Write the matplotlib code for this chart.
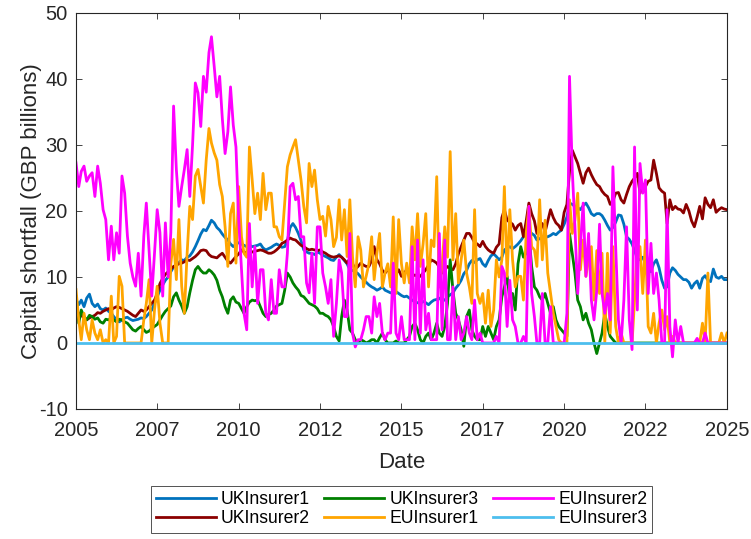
import matplotlib.pyplot as plt
import matplotlib.dates as mdates
import pandas as pd

plt.rcParams["font.family"] = ["Liberation Sans", "DejaVu Sans"]
plt.rcParams["axes.unicode_minus"] = False

# monthly observations, Jan 2005 .. Jan 2025 (one row per year)
dates = pd.date_range("2005-01-01", "2025-01-01", freq="MS")

uk_insurer1 = [
    6.6, 5.8, 6.5, 5.5, 6.8, 7.4, 6.0, 5.5, 5.9, 5.2, 5.0, 5.3,
    4.8, 4.5, 4.0, 3.5, 3.2, 3.5, 3.8, 3.9, 3.6, 3.4, 3.5, 3.6,
    3.8, 3.7, 4.0, 4.5, 5.0, 6.0, 7.0, 8.0, 8.8, 9.5, 10.0, 10.8,
    11.5, 11.8, 12.2, 12.6, 12.5, 13.0, 13.2, 13.8, 14.6, 15.5, 16.5, 17.2,
    17.0, 17.8, 18.6, 18.2, 17.5, 17.1, 16.5, 16.0, 15.6, 15.0, 14.6, 15.0,
    15.2, 15.0, 14.8, 14.6, 14.8, 14.6, 14.7, 14.8, 15.0, 14.4, 14.1, 14.3,
    14.5, 14.8, 15.0, 14.8, 14.5, 14.6, 15.5, 17.5, 18.1, 17.5, 16.6, 15.5,
    14.1, 13.8, 13.6, 13.6, 13.4, 13.8, 13.6, 13.3, 13.1, 12.9, 12.6, 12.5,
    13.0, 13.4, 13.0, 12.5, 12.0, 11.1, 11.0, 10.8, 10.5, 10.0, 9.6, 9.2,
    8.8, 8.5, 8.3, 8.0, 8.2, 8.5, 8.0, 7.8, 7.6, 7.6, 7.8, 7.5,
    7.2, 7.0, 7.1, 6.8, 6.5, 6.2, 6.1, 6.0, 6.3, 6.1, 5.8, 6.2,
    6.5, 6.6, 6.8, 6.4, 6.5, 7.0, 7.3, 7.6, 8.3, 8.8, 9.5, 10.5,
    11.0, 12.0, 12.5, 12.2, 12.6, 12.8, 12.0, 11.6, 12.5, 13.2, 13.5, 13.1,
    12.6, 13.0, 14.1, 14.4, 14.6, 14.3, 14.6, 15.0, 15.5, 16.1, 16.6, 17.1,
    16.6, 16.3, 15.6, 15.8, 16.1, 16.0, 16.1, 16.3, 16.6, 16.4, 16.8, 17.1,
    18.0, 19.1, 21.2, 21.0, 20.7, 20.5, 20.2, 20.8, 21.2, 20.5, 19.6, 19.3,
    19.6, 19.6, 19.3, 18.6, 17.8, 17.1, 17.5, 18.3, 19.4, 19.3, 18.0, 16.1,
    15.7, 15.0, 14.0, 12.8, 12.6, 13.0, 12.0, 11.0, 10.8, 12.0, 12.6, 11.4,
    9.5, 8.3, 8.5, 10.6, 11.4, 11.0, 10.4, 10.0, 9.6, 9.6, 9.2, 8.3,
    9.0, 9.4, 8.3, 9.8, 10.2, 9.5, 9.3, 11.2, 10.0, 9.8, 10.1, 9.6,
    9.6,
]

uk_insurer2 = [
    5.0, 4.5, 4.2, 3.8, 3.5, 3.8, 4.0, 4.2, 4.6, 4.5, 4.8, 5.0,
    5.2, 5.0, 5.3, 5.5, 5.4, 5.2, 5.0, 4.8, 4.5, 4.2, 4.0, 4.5,
    5.0, 4.8, 5.0, 5.5, 6.0, 6.5, 7.5, 9.0, 9.8, 10.4, 10.8, 11.2,
    11.6, 11.8, 12.0, 12.1, 12.3, 12.6, 12.5, 12.8, 13.1, 13.5, 14.0, 14.1,
    14.0, 13.4, 13.1, 13.0, 12.9, 13.3, 13.6, 13.0, 12.4, 12.1, 12.6, 13.1,
    13.5, 14.1, 13.8, 13.6, 13.5, 13.8, 13.9, 14.0, 14.1, 14.0, 13.8, 13.6,
    13.6, 13.8, 14.1, 14.5, 15.1, 15.3, 15.6, 15.9, 15.7, 15.6, 15.2, 14.8,
    14.6, 14.3, 14.1, 14.2, 14.1, 14.0, 14.1, 13.8, 13.6, 13.3, 13.1, 13.0,
    13.1, 13.2, 13.0, 12.6, 12.1, 12.8, 12.0, 11.2, 11.6, 12.1, 11.8, 11.6,
    11.6, 12.5, 14.6, 12.6, 12.0, 11.0, 10.6, 11.1, 10.6, 10.1, 10.5, 11.1,
    10.1, 10.6, 11.1, 10.6, 10.1, 10.3, 10.1, 10.1, 10.6, 11.1, 11.8, 12.6,
    12.4, 12.1, 11.5, 10.6, 11.1, 11.6, 11.3, 11.1, 12.0, 13.5, 14.6, 15.6,
    16.6, 16.6, 16.0, 15.2, 15.0, 14.6, 15.4, 14.6, 14.1, 13.8, 13.6, 14.5,
    15.0, 19.0, 20.2, 18.6, 18.3, 18.0, 17.1, 17.8, 18.1, 16.1, 18.5, 21.2,
    19.6, 18.5, 16.6, 17.2, 18.1, 16.8, 18.5, 20.2, 19.0, 18.2, 17.8, 17.1,
    19.8, 21.0, 26.0, 29.2, 28.2, 27.2, 25.7, 24.2, 25.8, 26.5, 25.5, 24.7,
    24.0, 23.7, 23.0, 22.5, 22.2, 21.0, 21.5, 22.7, 22.8, 21.7, 21.2, 22.5,
    23.7, 24.5, 25.0, 25.7, 22.7, 24.0, 23.7, 24.5, 24.7, 27.7, 25.7, 23.5,
    23.0, 22.7, 18.1, 21.7, 20.2, 20.7, 20.3, 20.2, 19.7, 21.0, 20.0, 18.5,
    17.6, 19.1, 20.7, 18.8, 22.0, 21.0, 20.5, 21.7, 19.8, 20.2, 20.5, 20.3,
    20.2,
]

uk_insurer3 = [
    7.0, 3.0, 5.0, 4.0, 3.5, 4.2, 4.0, 3.6, 3.8, 3.2, 3.0, 3.6,
    3.5, 3.8, 3.5, 3.2, 3.6, 3.5, 3.2, 3.0, 2.5, 2.0, 1.8, 2.2,
    2.5, 2.0, 1.6, 1.8, 2.2, 2.5, 2.8, 3.5, 4.2, 4.8, 5.2, 5.6,
    7.0, 7.6, 6.5, 5.6, 4.5, 5.5, 7.6, 9.5, 11.1, 11.6, 11.0, 10.6,
    10.6, 11.1, 10.8, 10.3, 9.5, 8.0, 7.0, 5.5, 4.5, 6.5, 7.0, 6.2,
    6.0, 5.2, 4.5, 5.5, 6.2, 6.5, 6.4, 6.5, 5.5, 4.5, 4.0, 4.3,
    4.5, 5.0, 5.6, 5.8, 6.0, 8.0, 10.6, 10.0, 9.1, 8.5, 8.0, 7.2,
    7.0, 6.5, 6.0, 5.8, 5.6, 5.2, 4.5, 4.5, 4.2, 4.0, 3.5, 2.5,
    1.0, 0.3, 4.0, 6.5, 5.0, 2.0, 1.5, 0.5, 0.0, 0.5, 0.3, 0.0,
    0.2, 0.5, 0.5, 0.0, 0.8, 1.5, 0.5, 0.0, 0.0, 0.0, 0.3, 0.0,
    0.0, 0.0, 0.5, 1.0, 2.5, 3.0, 2.0, 0.5, 0.0, 1.0, 1.5, 0.5,
    1.5, 3.0, 1.5, 1.0, 2.5, 6.0, 12.6, 8.0, 4.5, 3.5, 2.0, -0.5,
    4.0, 5.0, 2.0, 1.0, 0.5, 0.5, 2.5, 1.0, 2.5, 1.5, 0.5, 2.5,
    3.5, 7.0, 8.5, 10.1, 6.5, 7.5, 5.0, 12.0, 14.6, 13.0, 13.6, 16.6,
    11.6, 8.5, 8.0, 7.0, 6.5, 7.5, 6.0, 4.5, 5.5, 3.5, 2.5, 2.0,
    1.5, 1.0, 16.6, 13.6, 10.6, 6.5, 5.5, 3.5, 4.5, 3.0, 2.0, 0.0,
    -1.6, 0.0, 1.5, 4.5, 2.5, 1.0, 0.5, 0.0, 0.0, 0.0, 0.0, 0.0,
    0.0, 0.0, 0.0, 0.0, 0.0, 0.0, 0.0, 0.0, 0.0, 0.0, 0.0, 0.0,
    0.0, 0.0, 0.0, 0.0, 0.0, 0.0, 0.0, 0.0, 0.0, 0.0, 0.0, 0.0,
    0.0, 0.0, 0.0, 0.0, 0.0, 0.0, 0.0, 0.0, 0.0, 0.0, 0.0, 0.0,
    0.0,
]

eu_insurer1 = [
    8.1, 3.5, 0.5, 4.5, 2.0, 0.5, 3.5, 1.5, 0.5, 2.0, 0.0, 0.5,
    0.0, 7.1, 0.0, 1.0, 10.1, 8.6, 0.0, 0.0, 0.0, 0.0, 0.0, 0.0,
    0.0, 3.5, 6.0, 9.6, 0.0, 5.0, 8.6, 3.0, 0.0, 0.0, 0.0, 12.0,
    15.7, 9.6, 18.7, 8.6, 4.5, 13.6, 20.7, 18.7, 25.3, 26.3, 23.7, 21.2,
    27.7, 32.5, 30.3, 28.8, 27.7, 24.0, 22.2, 17.6, 11.6, 19.6, 21.2, 12.1,
    23.7, 16.1, 13.6, 13.0, 29.7, 24.7, 19.6, 22.7, 18.7, 25.7, 20.2, 22.7,
    22.7, 17.6, 17.6, 16.1, 15.6, 21.2, 26.7, 28.5, 29.7, 30.8, 27.7, 24.7,
    20.7, 18.2, 27.2, 23.7, 26.2, 21.7, 18.7, 19.2, 16.2, 20.7, 18.7, 14.6,
    16.0, 21.7, 15.6, 20.2, 13.1, 21.7, 13.1, 8.5, 16.1, 14.1, 8.5, 10.1,
    12.0, 16.1, 9.6, 13.6, 16.6, 8.5, 10.6, 12.0, 8.5, 19.1, 7.5, 18.7,
    12.0, 9.1, 12.1, 9.1, 17.6, 12.6, 19.6, 11.6, 15.0, 19.6, 8.5, 15.6,
    14.6, 25.2, 8.5, 11.6, 17.6, 13.0, 29.0, 12.6, 19.6, 9.1, 12.6, 15.6,
    10.6, 8.5, 6.0, 20.2, 7.5, 6.0, 7.5, 3.0, 8.0, 2.5, 5.0, 12.6,
    10.0, 12.6, 23.7, 10.1, 20.2, 12.6, 8.5, 10.1, 10.1, 6.5, 16.6, 20.7,
    14.6, 14.1, 11.6, 21.7, 12.6, 18.6, 10.6, 7.5, 4.5, 2.5, 0.5, 0.0,
    0.0, 0.0, 21.7, 16.6, 18.6, 22.7, 11.1, 15.6, 10.1, 12.6, 14.6, 6.5,
    14.0, 7.5, 13.6, 0.0, 13.6, 1.5, 14.6, 2.5, 0.0, 1.5, 0.0, 0.0,
    0.0, 0.0, 6.5, 14.6, 14.6, 7.5, 15.6, 2.5, 1.5, 4.5, 0.0, 3.0,
    5.0, 2.0, 4.0, 0.0, 1.0, 0.0, 0.0, 0.0, 0.0, 0.0, 0.0, 0.0,
    0.0, 0.0, 0.0, 3.0, 0.0, 10.6, 0.0, 0.0, 0.0, 0.0, 1.5, 0.0,
    1.5,
]

eu_insurer2 = [
    27.3, 23.7, 26.0, 26.8, 24.5, 25.3, 25.8, 22.2, 26.8, 24.2, 20.2, 18.7,
    12.6, 17.7, 12.6, 16.7, 13.6, 25.3, 22.7, 16.2, 12.1, 10.0, 8.6, 13.6,
    7.1, 16.2, 21.2, 14.0, 7.1, 13.6, 20.2, 16.7, 7.1, 18.2, 10.0, 16.7,
    35.9, 26.3, 20.7, 23.7, 26.3, 29.3, 22.2, 30.0, 39.4, 37.9, 32.8, 40.4,
    38.0, 44.0, 46.4, 41.9, 37.3, 40.4, 34.0, 28.7, 32.0, 38.8, 33.0, 29.7,
    18.6, 11.1, 4.5, 2.0, 18.1, 8.5, 14.6, 6.0, 11.1, 11.1, 4.5, 3.5,
    9.6, 4.5, 4.5, 11.1, 8.5, 8.5, 13.6, 23.7, 24.2, 21.7, 22.2, 16.1,
    16.1, 9.1, 7.6, 13.6, 6.0, 17.6, 17.6, 10.6, 8.5, 6.0, 9.6, 1.0,
    6.0, 12.6, 10.6, 4.0, 4.0, 16.6, 1.5, -0.6, 0.5, 0.5, 2.0, 4.0,
    4.0, 1.5, 7.0, 4.0, 6.0, 1.5, 0.5, 1.5, 1.5, 12.1, 1.5, 0.5,
    4.0, 0.5, 0.5, 0.5, 14.6, 0.5, 15.6, 1.5, 12.6, 2.0, 4.5, 0.5,
    0.5, 0.5, 16.6, 2.0, 15.6, 0.5, 0.5, 8.5, 0.5, 4.0, 0.5, 1.5,
    4.0, 1.5, 0.5, 6.5, 0.5, 1.5, 0.0, 0.0, 0.0, 0.0, 0.0, 1.0,
    0.0, 11.6, 10.6, 2.5, 9.5, 3.5, 2.5, 0.0, 0.0, 1.0, 0.0, 20.7,
    7.5, 4.0, 0.0, 0.0, 7.5, 0.0, 0.0, 5.5, 0.0, 0.0, 0.0, 0.0,
    0.0, 4.5, 40.4, 26.2, 17.6, 7.5, 14.6, 21.2, 10.1, 16.6, 6.5, 3.5,
    8.0, 18.0, 7.5, 4.5, 7.5, 3.5, 26.7, 14.6, 3.5, 0.0, 6.5, 17.6,
    3.5, -1.0, 29.7, 5.0, 27.2, 22.7, 24.7, 7.5, 15.1, 7.5, 10.6, 6.5,
    0.0, 0.0, 20.2, 2.5, -2.1, 3.5, 0.0, 2.5, 0.0, 0.0, 0.0, 0.0,
    0.0, 0.7, 0.0, 0.0, 1.5, 0.0, 0.0, 0.0, 0.0, 0.0, 0.0, 0.0,
    0.0,
]

eu_insurer3 = [0.0] * len(dates)

names = ["UKInsurer1", "UKInsurer2", "UKInsurer3", "EUInsurer1", "EUInsurer2", "EUInsurer3"]
series = [uk_insurer1, uk_insurer2, uk_insurer3, eu_insurer1, eu_insurer2, eu_insurer3]
colors = ["#0072BD", "#8B0000", "#008000", "#FFA500", "#FF00FF", "#4DBEEE"]

tick_dates = pd.to_datetime([
    "2005-01-01", "2007-07-01", "2010-01-01", "2012-07-01", "2015-01-01",
    "2017-07-01", "2020-01-01", "2022-07-01", "2025-01-01",
])

axis_color = "#262626"

fig = plt.figure(figsize=(7.51, 5.39), dpi=100)
ax_rect = [0.1012, 0.2412, 0.8668, 0.7347]
ax = fig.add_axes(ax_rect)

for values, name, color in zip(series, names, colors):
    ax.plot(dates, values, color=color, linewidth=2.0, label=name)

ax.set_xlim(pd.Timestamp("2005-01-01"), pd.Timestamp("2025-01-01"))
ax.set_ylim(-10, 50)
ax.set_yticks(range(-10, 51, 10))
ax.set_xticks(tick_dates)
ax.xaxis.set_major_formatter(mdates.DateFormatter("%Y"))

ax.tick_params(direction="in", top=True, right=True, length=4.5, width=0.6,
               colors=axis_color, labelsize=14.5)
ax.tick_params(axis="x", pad=9)
ax.tick_params(axis="y", pad=6)
for spine in ax.spines.values():
    spine.set_color(axis_color)
    spine.set_linewidth(0.8)

ax.set_xlabel("Date", fontsize=16, color=axis_color, labelpad=8)
ax.set_ylabel("Capital shortfall (GBP billions)", fontsize=16, color=axis_color, labelpad=-2)

# legend sits centred under the axes box
leg = fig.legend(
    loc="lower center",
    bbox_to_anchor=(ax_rect[0] + ax_rect[2] / 2, 0.012),
    ncol=3,
    fontsize=12.7,
    frameon=True,
    fancybox=False,
    edgecolor=axis_color,
    handlelength=3.4,
    handletextpad=0.3,
    columnspacing=0.8,
    labelspacing=0.1,
    borderpad=0.3,
    borderaxespad=0.0,
)
leg.get_frame().set_linewidth(0.7)
for text in leg.get_texts():
    text.set_color("black")

fig.savefig("out.png", dpi=100)
plt.close(fig)
